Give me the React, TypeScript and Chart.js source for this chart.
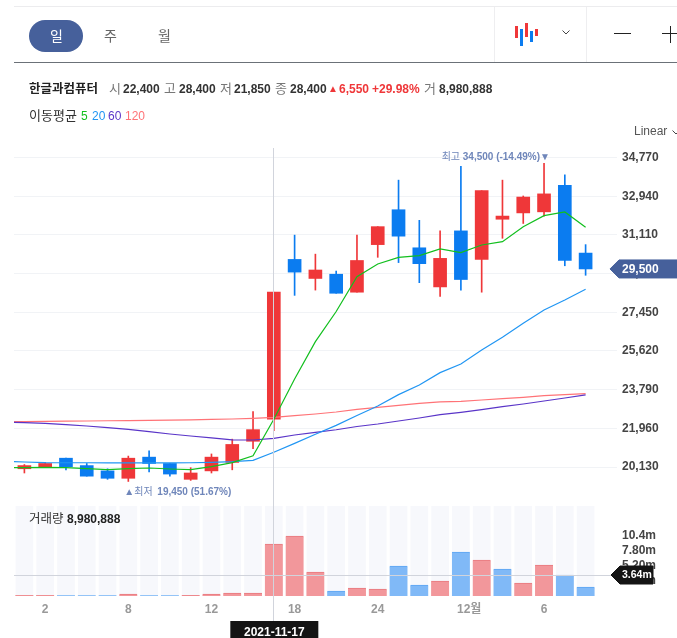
import React, { useEffect, useRef } from "react";
import { Chart, registerables } from "chart.js";

Chart.register(...registerables);

const FONT = '"Liberation Sans", "Noto Sans CJK KR", sans-serif';
const RED = "#ef3739";
const BLUE = "#0b7cf0";
const NAVY = "#46609b";
const NOTE = "#6f86ba";

const opens = [20050, 20150, 20550, 20200, 19950, 19600, 20600, 20300, 19550, 19950, 20350, 21350, 22400, 29950, 29050, 29250, 28400, 30650, 32300, 30500, 28650, 31300, 29950, 31850, 32150, 32200, 33450, 30250];
const closes = [20200, 20300, 20150, 19700, 19600, 20550, 20300, 19800, 19850, 20600, 21200, 21900, 28400, 29350, 29450, 28350, 29900, 31500, 31050, 29750, 30000, 29000, 33200, 32000, 32900, 33050, 29900, 29500];
const highs = [20250, 20350, 20550, 20300, 20050, 20650, 20900, 20300, 20100, 20750, 21450, 22750, 28400, 31100, 30200, 29400, 31100, 31500, 33700, 31800, 31300, 34350, 33200, 33700, 32950, 34500, 33950, 30650];
const lows = [19850, 20150, 20000, 19700, 19550, 19450, 19900, 19700, 19500, 19850, 20000, 21000, 21850, 28250, 28500, 28350, 28400, 30050, 29800, 28850, 28200, 28500, 28400, 30950, 31650, 32000, 29650, 29200];
const volumes = [110000, 110000, 80000, 80000, 80000, 350000, 80000, 80000, 100000, 350000, 520000, 520000, 8980888, 10400000, 4160000, 870000, 1390000, 1210000, 5200000, 1900000, 2600000, 7630000, 6240000, 4680000, 2250000, 5370000, 3640000, 1560000];

// Moving averages: the first value sits half a slot before the first candle, at the left edge.
const maPositions = [-0.5, 0, 1, 2, 3, 4, 5, 6, 7, 8, 9, 10, 11, 12, 13, 14, 15, 16, 17, 18, 19, 20, 21, 22, 23, 24, 25, 26, 27];
const ma5 = [20103, 20103, 20118, 20103, 20055, 20008, 20055, 20087, 20040, 20008, 20150, 20340, 20660, 22393, 24293, 26061, 27487, 29136, 29735, 30050, 30129, 30444, 30270, 30633, 30790, 31500, 32020, 32193, 31468];
const ma20 = [20386, 20371, 20340, 20335, 20335, 20325, 20325, 20325, 20325, 20335, 20355, 20387, 20450, 20828, 21253, 21679, 22104, 22570, 23020, 23555, 24013, 24596, 25005, 25667, 26266, 26928, 27559, 28031, 28536];
const ma60 = [22246, 22230, 22199, 22136, 22073, 21994, 21915, 21805, 21695, 21600, 21510, 21420, 21410, 21490, 21647, 21774, 21895, 22050, 22167, 22309, 22451, 22610, 22720, 22846, 22988, 23114, 23256, 23398, 23540];
const ma120 = [22278, 22280, 22290, 22300, 22310, 22320, 22330, 22340, 22350, 22365, 22385, 22404, 22435, 22483, 22562, 22640, 22735, 22862, 22957, 23051, 23146, 23209, 23240, 23303, 23366, 23429, 23508, 23555, 23603];

const priceTicks = [34770, 32940, 31110, 29280, 27450, 25620, 23790, 21960, 20130];
const volumeTicks = [10400000, 7800000, 5200000, 2600000];
const volumeTickLabels = ["10.4m", "7.80m", "5.20m", "2.60m"];
const xTickValues = [1, 5, 9, 13, 17, 21.4, 25];
const xTickLabels = ["2", "8", "12", "18", "24", "12월", "6"];

const PRICE_MIN = 18289;
const PRICE_MAX = 35125;
const VOLUME_MAX = 15600000;
const lastPrice = 29500;
const lastVolume = 3640000;
const crossIndex = 12;
const crossDate = "2021-11-17";
const highIndex = 25;
const lowIndex = 5;

const slots = volumes.map((_, i) => i);
const up = (i: number) => closes[i] >= opens[i];
const volumeUp = (i: number) => (i === 0 ? up(0) : closes[i] >= closes[i - 1]);
const fmt = (n: number) => n.toLocaleString("en-US");

const overlayPlugin = {
  id: "overlay",
  afterDatasetsDraw(chart: any) {
    const { ctx, scales, chartArea } = chart;
    const x = scales.x;
    const yP = scales.y;
    const yV = scales.yVolume;
    ctx.save();
    ctx.strokeStyle = "#d1d4dc";
    ctx.lineWidth = 1;
    const cx = Math.round(x.getPixelForValue(crossIndex)) - 0.5;
    ctx.beginPath();
    ctx.moveTo(cx, 148);
    ctx.lineTo(cx, 622);
    const vy = Math.round(yV.getPixelForValue(lastVolume)) + 0.5;
    ctx.moveTo(chartArea.left, vy);
    ctx.lineTo(612, vy);
    ctx.stroke();

    ctx.fillStyle = NOTE;
    ctx.textBaseline = "middle";
    const hx = x.getPixelForValue(highIndex);
    const hy = yP.getPixelForValue(highs[highIndex]) - 6;
    ctx.textAlign = "center";
    ctx.font = `10px ${FONT}`;
    ctx.fillText("▼", hx + 1, hy);
    ctx.textAlign = "right";
    ctx.font = `bold 10px ${FONT}`;
    ctx.fillText(`${fmt(highs[highIndex])} (-14.49%)`, hx - 4, hy);
    ctx.font = `10px ${FONT}`;
    ctx.fillText("최고", hx - 84, hy);

    const lx = x.getPixelForValue(lowIndex);
    const ly = yP.getPixelForValue(lows[lowIndex]) + 11;
    ctx.textAlign = "center";
    ctx.font = `10px ${FONT}`;
    ctx.fillText("▲", lx + 1, ly);
    ctx.textAlign = "left";
    ctx.font = `10px ${FONT}`;
    ctx.fillText("최저", lx + 6, ly);
    ctx.font = `bold 10px ${FONT}`;
    ctx.fillText(`${fmt(lows[lowIndex])} (51.67%)`, lx + 29, ly);
    ctx.restore();
  },
  afterDraw(chart: any) {
    const { ctx, scales } = chart;
    const tag = (y: number, left: number, right: number, half: number, fill: string, text: string, size: number) => {
      ctx.fillStyle = fill;
      ctx.strokeStyle = fill;
      ctx.lineWidth = 1;
      ctx.lineJoin = "round";
      ctx.beginPath();
      ctx.moveTo(left, y);
      ctx.lineTo(left + 9, y - half);
      ctx.lineTo(right, y - half);
      ctx.lineTo(right, y + half);
      ctx.lineTo(left + 9, y + half);
      ctx.closePath();
      ctx.fill();
      ctx.stroke();
      ctx.fillStyle = "#fff";
      ctx.font = `bold ${size}px ${FONT}`;
      ctx.textAlign = "left";
      ctx.textBaseline = "middle";
      ctx.fillText(text, 622, y + 0.5);
    };
    ctx.save();
    tag(scales.y.getPixelForValue(lastPrice), 610, 678, 9, NAVY, fmt(lastPrice), 12);
    tag(scales.yVolume.getPixelForValue(lastVolume), 611, 653, 9, "#141414", "3.64m", 10.5);
    const cx = scales.x.getPixelForValue(crossIndex);
    ctx.fillStyle = "#141414";
    ctx.fillRect(cx - 43.5, 621, 88, 17);
    ctx.fillStyle = "#fff";
    ctx.font = `bold 12px ${FONT}`;
    ctx.textAlign = "center";
    ctx.textBaseline = "middle";
    ctx.fillText(crossDate, cx + 0.5, 633);
    ctx.restore();
  },
};

function T({ x, y, children, color = "#222", bold = false, size = 12 }: any) {
  return (
    <span
      style={{
        position: "absolute",
        left: x,
        top: y - 10,
        height: 20,
        lineHeight: "20px",
        fontSize: size,
        fontWeight: bold ? 700 : 400,
        color,
        whiteSpace: "nowrap",
        fontFamily: FONT,
      }}
    >
      {children}
    </span>
  );
}

function Box({ x, y, w, h, c, r = 0 }: any) {
  return <div style={{ position: "absolute", left: x, top: y, width: w, height: h, background: c, borderRadius: r }} />;
}

function Chevron({ x, y, w, h }: any) {
  return (
    <svg style={{ position: "absolute", left: x, top: y }} width={w} height={h + 2}>
      <path d={`M0.5 0.5 L${w / 2} ${h} L${w - 0.5} 0.5`} fill="none" stroke="#444" strokeWidth={1} />
    </svg>
  );
}

export default function App() {
  const ref = useRef<HTMLCanvasElement>(null);

  useEffect(() => {
    const toPoints = (vals: number[]) => vals.map((y, i) => ({ x: maPositions[i], y }));
    const line = (label: string, vals: number[], color: string) => ({
      type: "line" as const,
      label,
      data: toPoints(vals),
      yAxisID: "y",
      borderColor: color,
      borderWidth: 1.2,
      pointRadius: 0,
      tension: 0,
      order: 0,
    });
    const chart = new Chart(ref.current as HTMLCanvasElement, {
      type: "bar",
      data: {
        datasets: [
          line("5", ma5, "#12bf1e"),
          line("20", ma20, "#2196f3"),
          line("60", ma60, "#5a35c8"),
          line("120", ma120, "#ff7377"),
          {
            label: "body",
            data: slots.map((i) => ({ x: i, y: [opens[i], closes[i]] })),
            yAxisID: "y",
            backgroundColor: slots.map((i) => (up(i) ? RED : BLUE)),
            barThickness: 13,
            grouped: false,
            order: 1,
          },
          {
            label: "wick",
            data: slots.map((i) => ({ x: i, y: [lows[i], highs[i]] })),
            yAxisID: "y",
            backgroundColor: slots.map((i) => (up(i) ? RED : BLUE)),
            barThickness: 1,
            grouped: false,
            order: 2,
          },
          {
            label: "거래량",
            data: slots.map((i) => ({ x: i, y: volumes[i] })),
            yAxisID: "yVolume",
            backgroundColor: slots.map((i) => (volumeUp(i) ? "#f2979b" : "#80b9f7")),
            borderColor: slots.map((i) => (volumeUp(i) ? "#e8797e" : "#5da6f3")),
            borderWidth: { top: 1, left: 0, right: 0, bottom: 0 },
            borderSkipped: "bottom",
            barThickness: 18,
            grouped: false,
            order: 3,
          },
          {
            label: "band",
            data: slots.map((i) => ({ x: i, y: VOLUME_MAX })),
            yAxisID: "yVolume",
            backgroundColor: "#f7f8fc",
            barThickness: 17,
            grouped: false,
            order: 4,
          },
        ] as any,
      },
      options: {
        responsive: false,
        animation: false,
        layout: { autoPadding: false, padding: { top: 150, left: 14, right: 0, bottom: 0 } },
        plugins: { legend: { display: false }, tooltip: { enabled: false } },
        scales: {
          x: {
            type: "linear",
            min: -0.5,
            max: 27.5,
            offset: false,
            grid: { display: false, offset: false, drawTicks: false },
            border: { display: false },
            afterBuildTicks: (s: any) => {
              s.ticks = xTickValues.map((value) => ({ value }));
            },
            afterFit: (s: any) => {
              s.height = 42;
            },
            ticks: {
              autoSkip: false,
              maxRotation: 0,
              padding: 6,
              color: "#999999",
              font: { family: FONT, size: 12, weight: "bold" },
              callback: (v: any) => xTickLabels[xTickValues.indexOf(v)],
            },
          },
          y: {
            type: "linear",
            position: "right",
            stack: "panes",
            stackWeight: 356,
            weight: 0,
            min: PRICE_MIN,
            max: PRICE_MAX,
            border: { display: false },
            grid: { color: "#f1f3f6", tickLength: 21, lineWidth: 1 },
            afterBuildTicks: (s: any) => {
              s.ticks = priceTicks.map((value) => ({ value }));
            },
            afterFit: (s: any) => {
              s.width = 81;
            },
            ticks: {
              autoSkip: false,
              padding: 5,
              color: "#444444",
              font: { family: FONT, size: 12, weight: "bold" },
              callback: (v: any) => fmt(v),
            },
          },
          yVolume: {
            type: "linear",
            position: "right",
            stack: "panes",
            stackWeight: 90,
            weight: 1,
            min: 0,
            max: VOLUME_MAX,
            border: { display: false },
            grid: { display: false, drawTicks: false },
            afterBuildTicks: (s: any) => {
              s.ticks = volumeTicks.map((value) => ({ value }));
            },
            afterFit: (s: any) => {
              s.width = 81;
            },
            ticks: {
              autoSkip: false,
              padding: 26,
              color: "#444444",
              font: { family: FONT, size: 12, weight: "bold" },
              callback: (v: any) => volumeTickLabels[volumeTicks.indexOf(v)],
            },
          },
        },
      } as any,
      plugins: [overlayPlugin],
    });
    return () => chart.destroy();
  }, []);

  return (
    <div style={{ position: "absolute", left: 0, top: 0, width: 677, height: 638, overflow: "hidden", background: "#fff" }}>
      <canvas ref={ref} width={677} height={638} style={{ position: "absolute", left: 0, top: 0, display: "block" }} />

      <Box x={14} y={6} w={663} h={1} c="#ececee" />
      <Box x={14} y={62} w={663} h={1} c="#6b7178" />
      <Box x={494} y={7} w={1} h={55} c="#eeeef0" />
      <Box x={586} y={7} w={1} h={55} c="#eeeef0" />

      <Box x={29} y={20} w={54} h={32} c={NAVY} r={16} />
      <T x={50} y={36} color="#fff" size={14}>일</T>
      <T x={104} y={36} color="#666" size={14}>주</T>
      <T x={158} y={36} color="#666" size={14}>월</T>

      <Box x={515} y={26} w={3} h={12} c={RED} />
      <Box x={520} y={29} w={3} h={17} c={BLUE} />
      <Box x={525} y={23} w={3} h={14} c={RED} />
      <Box x={530} y={31} w={3} h={11} c={BLUE} />
      <Box x={535} y={29} w={3} h={7} c={RED} />
      <Chevron x={562} y={30} w={8} h={4} />
      <Box x={614} y={33} w={17} h={1} c="#222" />
      <Box x={662} y={33} w={15} h={1} c="#222" />
      <Box x={670} y={26} w={1} h={17} c="#222" />

      <T x={29} y={89} bold size={12.5}>한글과컴퓨터</T>
      <T x={109} y={89} color="#777" size={13}>시</T>
      <T x={123} y={89} bold color="#333">22,400</T>
      <T x={164} y={89} color="#777" size={13}>고</T>
      <T x={179} y={89} bold color="#333">28,400</T>
      <T x={220} y={89} color="#777" size={13}>저</T>
      <T x={234} y={89} bold color="#333">21,850</T>
      <T x={275} y={89} color="#777" size={13}>종</T>
      <T x={290} y={89} bold color="#333">28,400</T>
      <T x={328} y={89} color={RED} size={10}>▲</T>
      <T x={339} y={89} bold color={RED}>6,550</T>
      <T x={372} y={89} bold color={RED}>+29.98%</T>
      <T x={424} y={89} color="#777" size={13}>거</T>
      <T x={439} y={89} bold color="#333">8,980,888</T>

      <T x={29} y={116} color="#333" size={13}>이동평균</T>
      <T x={81} y={116} color="#12bf1e">5</T>
      <T x={92} y={116} color="#2196f3">20</T>
      <T x={108} y={116} color="#5a35c8">60</T>
      <T x={125} y={116} color="#ff7377">120</T>

      <T x={634} y={131} color="#555">Linear</T>
      <Chevron x={672} y={130} w={8} h={4} />

      <T x={29} y={519} color="#333" size={12.5}>거래량</T>
      <T x={67} y={519} bold>8,980,888</T>
    </div>
  );
}
